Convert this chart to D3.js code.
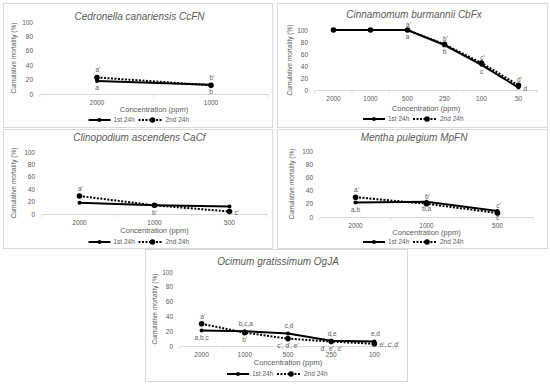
<!DOCTYPE html>
<html>
<head>
<meta charset="utf-8">
<script src="https://cdn.jsdelivr.net/npm/d3@7"></script>
<style>
body { margin: 0; background: #fff; }
svg { display: block; font-family: "Liberation Sans", Arial, sans-serif; }
</style>
</head>
<body>
<div id="chart"></div>
<script>
// ---- data ----
var yTicks = [0, 20, 40, 60, 80, 100];

var cedConc = ["2000", "1000"];
var cedFirst = [18, 13];
var cedSecond = [23, 12];
var cedFirstTxt = ["a", "b"];
var cedSecondTxt = ["a'", "b'"];

var cinConc = ["2000", "1000", "500", "250", "100", "50"];
var cinFirst = [100, 100, 100, 75, 42, 4];
var cinSecond = [100, 100, 100, 76, 45, 8];
var cinFirstTxt = ["", "", "a", "b", "c", "d"];
var cinSecondTxt = ["", "", "a'", "b'", "c'", "d'"];

var cliConc = ["2000", "1000", "500"];
var cliFirst = [18, 14, 12];
var cliSecond = [29, 14, 4];
var cliFirstTxt = ["", "", ""];
var cliSecondTxt = ["a'", "b'", "c'"];

var menConc = ["2000", "1000", "500"];
var menFirst = [22, 23, 9];
var menSecond = [30, 20, 6];
var menFirstTxt = ["a,b", "b,a", "c"];
var menSecondTxt = ["a'", "b'", "c'"];

var ociConc = ["2000", "1000", "500", "250", "100"];
var ociFirst = [21, 20, 17, 7, 6];
var ociSecond = [30, 18, 10, 6, 3];
var ociFirstTxt = ["a,b,c", "b,c,a", "c,d", "d,e", "e,d"];
var ociSecondTxt = ["a'", "b'", "c', d', e'", "d', e', c'", "e', c',d'"];

var seriesNames = ["1st 24h", "2nd 24h"];

var grey = "#595959";
var axisGrey = "#d9d9d9";

var svg = d3.select("#chart").append("svg").attr("width", 550).attr("height", 386);

// panel layouts
var panels = [
	{ title: "Cedronella canariensis CcFN", conc: cedConc, s1: cedFirst, s2: cedSecond, t1: cedFirstTxt, t2: cedSecondTxt,
	  p1: ["b", "b"], p2: ["t", "t"], up: 7,
	  box: [3, 3, 269, 124], l: 40, r: 268, top: 22, bot: 94, titleY: 17, xTitleY: 110, legendY: 120, yTitleX: 14 },
	{ title: "Cinnamomum burmannii CbFx", conc: cinConc, s1: cinFirst, s2: cinSecond, t1: cinFirstTxt, t2: cinSecondTxt,
	  p1: ["b", "b", "b", "b", "b", "r"], p2: ["t", "t", "t", "t", "t", "t"], up: 5,
	  box: [277, 3, 270, 124], l: 315, r: 537, top: 30, bot: 90, titleY: 15, xTitleY: 109, legendY: 119, yTitleX: 290 },
	{ title: "Clinopodium ascendens CaCf", conc: cliConc, s1: cliFirst, s2: cliSecond, t1: cliFirstTxt, t2: cliSecondTxt,
	  p1: ["b", "b", "b"], p2: ["t", "b", "r"], up: 7,
	  box: [3, 129, 269, 119], l: 42, r: 267, top: 152, bot: 214, titleY: 138, xTitleY: 231, legendY: 242, yTitleX: 14 },
	{ title: "Mentha pulegium MpFN", conc: menConc, s1: menFirst, s2: menSecond, t1: menFirstTxt, t2: menSecondTxt,
	  p1: ["b", "b", "b"], p2: ["t", "t", "t"], up: 7,
	  box: [277, 129, 270, 119], l: 320, r: 533, top: 151, bot: 217, titleY: 138, xTitleY: 233, legendY: 242, yTitleX: 292 },
	{ title: "Ocimum gratissimum OgJA", conc: ociConc, s1: ociFirst, s2: ociSecond, t1: ociFirstTxt, t2: ociSecondTxt,
	  p1: ["b", "t", "t", "t", "t"], p2: ["t", "b", "b", "b", "r"], up: 7,
	  box: [145, 249, 262, 132], l: 180, r: 396, top: 272, bot: 346, titleY: 262, xTitleY: 363, legendY: 374, yTitleX: 155 }
];

panels.forEach(function(p) { drawPanel(p); });

function drawPanel(p) {
	var g = svg.append("g");
	var bx = p.box[0], by = p.box[1], bw = p.box[2], bh = p.box[3];
	g.append("rect").attr("x", bx + 0.5).attr("y", by + 0.5).attr("width", bw).attr("height", bh)
		.attr("fill", "#fff").attr("stroke", axisGrey).attr("stroke-width", 1);

	var x = d3.scaleBand().domain(p.conc).range([p.l, p.r]).padding(0);
	var y = d3.scaleLinear().domain([0, 100]).range([p.bot, p.top]);
	var cx = function(c) { return x(c) + x.bandwidth() / 2; };

	// title
	g.append("text").attr("x", bx + bw / 2 + 2).attr("y", p.titleY).attr("text-anchor", "middle")
		.attr("dominant-baseline", "middle").attr("font-size", 10).attr("font-style", "italic")
		.attr("fill", grey).text(p.title);

	// y axis labels
	var yAxis = d3.axisLeft(y).tickValues(yTicks).tickSize(0).tickPadding(7);
	var ya = g.append("g").attr("transform", "translate(" + p.l + ",0)").call(yAxis);
	ya.select(".domain").remove();
	ya.selectAll("text").attr("font-size", 6.5).attr("fill", grey).attr("font-family", null);

	// x axis
	var xAxis = d3.axisBottom(x).tickSize(0).tickPadding(6.5);
	var xa = g.append("g").attr("transform", "translate(0," + p.bot + ")").call(xAxis);
	xa.select(".domain").attr("stroke", axisGrey);
	xa.selectAll("text").attr("font-size", 6.5).attr("fill", grey).attr("font-family", null);
	var edges = p.conc.map(function(c) { return x(c); }).concat([p.r]);
	g.selectAll(".xtick").data(edges).enter().append("line")
		.attr("x1", function(d) { return d; }).attr("x2", function(d) { return d; })
		.attr("y1", p.bot).attr("y2", p.bot + 3).attr("stroke", axisGrey);

	// axis titles
	g.append("text").attr("transform", "translate(" + p.yTitleX + "," + ((p.top + p.bot) / 2) + ") rotate(-90)")
		.attr("text-anchor", "middle").attr("dominant-baseline", "middle").attr("font-size", 6.5)
		.attr("fill", grey).text("Cumulative mortality (%)");
	g.append("text").attr("x", (p.l + p.r) / 2).attr("y", p.xTitleY).attr("text-anchor", "middle")
		.attr("dominant-baseline", "middle").attr("font-size", 7.5).attr("fill", grey).text("Concentration (ppm)");

	// lines
	var line = d3.line().x(function(d, i) { return cx(p.conc[i]); }).y(function(d) { return y(d); });
	g.append("path").attr("d", line(p.s2)).attr("fill", "none").attr("stroke", "#000")
		.attr("stroke-width", 2).attr("stroke-dasharray", "2,1.5");
	g.append("path").attr("d", line(p.s1)).attr("fill", "none").attr("stroke", "#000").attr("stroke-width", 2);
	g.selectAll(".m2").data(p.s2).enter().append("circle")
		.attr("cx", function(d, i) { return cx(p.conc[i]); }).attr("cy", function(d) { return y(d); })
		.attr("r", 2.8).attr("fill", "#000");
	g.selectAll(".m1").data(p.s1).enter().append("circle")
		.attr("cx", function(d, i) { return cx(p.conc[i]); }).attr("cy", function(d) { return y(d); })
		.attr("r", 2).attr("fill", "#000");

	// letters
	addLetters(g, p.t1, p.s1, p.p1, p.conc, cx, y, p.up);
	addLetters(g, p.t2, p.s2, p.p2, p.conc, cx, y, p.up);

	// legend
	var lc = bx + bw / 2;
	var ly = p.legendY;
	g.append("line").attr("x1", lc - 49).attr("x2", lc - 27).attr("y1", ly).attr("y2", ly)
		.attr("stroke", "#000").attr("stroke-width", 2);
	g.append("circle").attr("cx", lc - 38).attr("cy", ly).attr("r", 2).attr("fill", "#000");
	g.append("text").attr("x", lc - 24).attr("y", ly).attr("dominant-baseline", "middle")
		.attr("font-size", 6.5).attr("fill", grey).text(seriesNames[0]);
	g.append("line").attr("x1", lc + 1).attr("x2", lc + 25).attr("y1", ly).attr("y2", ly)
		.attr("stroke", "#000").attr("stroke-width", 2).attr("stroke-dasharray", "2,1.5");
	g.append("circle").attr("cx", lc + 15).attr("cy", ly).attr("r", 2.8).attr("fill", "#000");
	g.append("text").attr("x", lc + 28).attr("y", ly).attr("dominant-baseline", "middle")
		.attr("font-size", 6.5).attr("fill", grey).text(seriesNames[1]);
}

function addLetters(g, txt, vals, pos, conc, cx, y, up) {
	txt.forEach(function(t, i) {
		if (!t) return;
		var px = cx(conc[i]);
		var py = y(vals[i]);
		var el = g.append("text").attr("font-size", 6.5).attr("fill", grey)
			.attr("dominant-baseline", "middle").text(t);
		if (pos[i] == "t") {
			el.attr("x", px + 1).attr("y", py - up).attr("text-anchor", "middle");
		} else if (pos[i] == "b") {
			el.attr("x", px).attr("y", py + 7.5).attr("text-anchor", "middle");
		} else {
			el.attr("x", px + 5).attr("y", py + 1.5).attr("text-anchor", "start");
		}
	});
}
</script>
</body>
</html>
